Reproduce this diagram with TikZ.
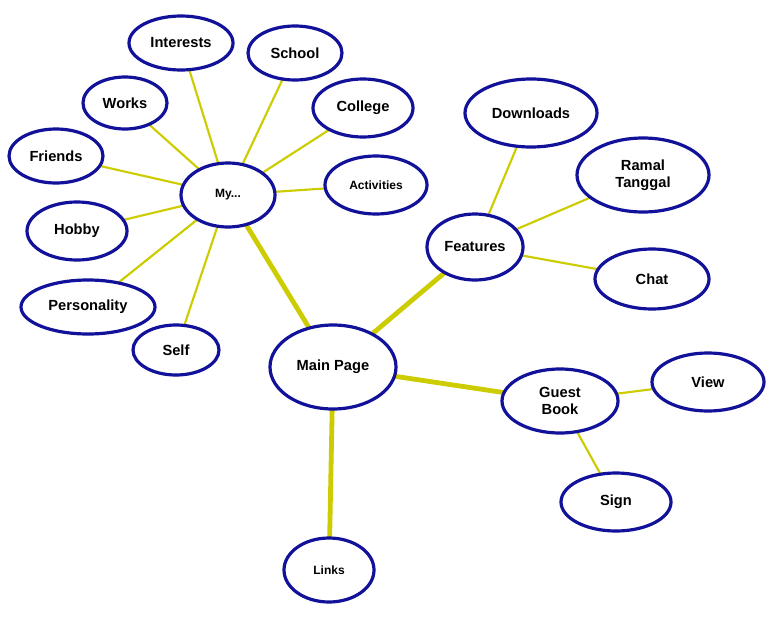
\documentclass[tikz,border=0pt]{standalone}
\usepackage{fontspec}
\setmainfont{Liberation Sans}
\usetikzlibrary{shapes.geometric,backgrounds}
\definecolor{rim}{HTML}{111199}
\definecolor{link}{HTML}{CCCC00}
\tikzset{
  bubble/.style={ellipse, draw=rim, line width=2.4pt, fill=white, inner sep=0pt,
    font=\bfseries\fontsize{11}{12.5}\selectfont, align=center},
  size/.style 2 args={minimum width=#1*0.75pt, minimum height=#2*0.75pt},
  thin/.style={link, line width=1.6pt},
  thick/.style={link, line width=3.6pt}
}
\begin{document}
\begin{tikzpicture}[x=0.75pt,y=-0.75pt]
\useasboundingbox (0,0) rectangle (777,617);

\node[bubble, size={104}{54}] (interests) at (181,43) {Interests};
\node[bubble, size={94}{54}] (school) at (295,53) {School};
\node[bubble, size={84}{52}] (works) at (125,103) {Works};
\node[bubble, size={100}{58}] (college) at (363,108) {College};
\node[bubble, size={94}{54}] (friends) at (56,156) {Friends};
\node[bubble, size={94}{64}, font=\bfseries\small] (my) at (228,195) {My...};
\node[bubble, size={102}{58}, font=\bfseries\small] (activities) at (376,185) {Activities};
\node[bubble, size={100}{58}] (hobby) at (77,231) {Hobby};
\node[bubble, size={132}{68}] (downloads) at (531,113) {Downloads};
\node[bubble, size={132}{74}] (ramal) at (643,175) {Ramal\\Tanggal};
\node[bubble, size={96}{66}] (features) at (475,247) {Features};
\node[bubble, size={114}{60}] (chat) at (652,279) {Chat};
\node[bubble, size={134}{54}] (personality) at (88,307) {Personality};
\node[bubble, size={86}{50}] (self) at (176,350) {Self};
\node[bubble, size={126}{84}] (main) at (333,367) {Main Page};
\node[bubble, size={116}{64}] (guest) at (560,401) {Guest\\Book};
\node[bubble, size={112}{58}] (view) at (708,382) {View};
\node[bubble, size={110}{58}] (sign) at (616,502) {Sign};
\node[bubble, size={90}{64}, font=\bfseries\small] (links) at (329,570) {Links};

\begin{pgfonlayer}{background}
\foreach \t in {interests,school,works,college,friends,activities,hobby,personality,self}
  \draw[thin] (my.center) -- (\t.center);
\foreach \t in {downloads,ramal,chat}
  \draw[thin] (features.center) -- (\t.center);
\foreach \t in {view,sign}
  \draw[thin] (guest.center) -- (\t.center);
\foreach \t in {my,features,guest,links}
  \draw[thick] (main.center) -- (\t.center);
\end{pgfonlayer}
\end{tikzpicture}
\end{document}
